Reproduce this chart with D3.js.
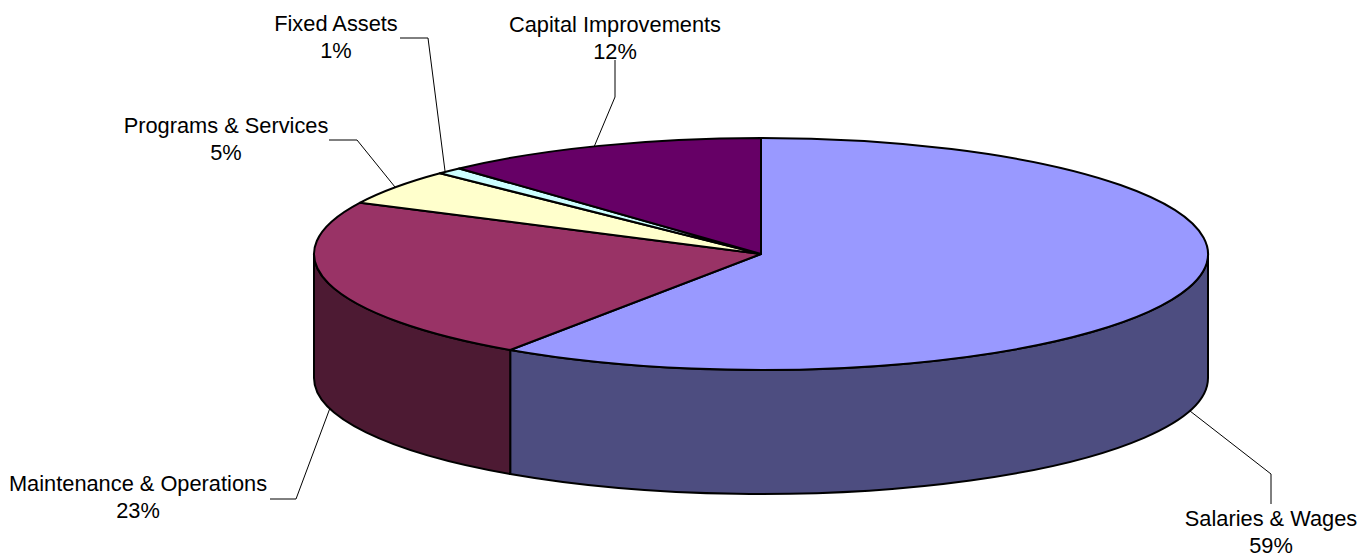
<!DOCTYPE html>
<html><head><meta charset="utf-8">
<script src="https://cdn.jsdelivr.net/npm/d3@7"></script>
<style>html,body{margin:0;background:#fff}svg{display:block}text{font-family:"Liberation Sans",Arial,sans-serif;font-size:21.8px;fill:#000}</style>
</head><body><svg id="c" width="1370" height="557"></svg>
<script>
const categories = ["Salaries & Wages","Maintenance & Operations","Programs & Services","Fixed Assets","Capital Improvements"];
const values = [59.48,22.82,4.95,0.95,11.8];
const labels = ["59%","23%","5%","1%","12%"];
const topColors = ["#9999ff","#993366","#ffffcc","#ccffff","#660066"];
const sideColors = ["#4d4d80","#4d1a33","#808066","#668080","#330033"];
const labelPos = [[1271,526],[138,491],[226,133],[336,31],[615,32]];
const leaders = [[[1190,411],[1271,474],[1271,504]],[[330,408],[296,499],[270,499]],[[395,187],[357,140],[329,140]],[[445,171],[428,38],[400,38]],[[594,147],[615,97],[615,60]]];

const svg = d3.select("#c");
const cx=761, cy=254, rx=447, ry=116, depth=124;
const ang = d3.pie().sort(null).value(d=>d)(values);
const px = d3.scaleLinear().domain([-1,1]).range([cx-rx,cx+rx]);
const py = d3.scaleLinear().domain([-1,1]).range([cy-ry,cy+ry]);
const pt = (a,dz=0)=>[px(Math.sin(a)),py(-Math.cos(a))+dz];
const ell = `A${rx} ${ry} 0`;

function sidePath(a0,a1){
  const p0=pt(a0),p1=pt(a1),q0=pt(a0,depth),q1=pt(a1,depth);
  return `M${p0}${ell} 0 1 ${p1}L${q1}${ell} 0 0 ${q0}Z`;
}
ang.forEach((d,i)=>{
  const a0=Math.max(d.startAngle,Math.PI/2), a1=Math.min(d.endAngle,Math.PI*1.5);
  if(a1>a0) svg.append("path").attr("d",sidePath(a0,a1)).attr("fill",sideColors[i]).attr("stroke","#000").attr("stroke-width",2).attr("stroke-linejoin","round");
});
ang.forEach((d,i)=>{
  const p0=pt(d.startAngle),p1=pt(d.endAngle);
  const large=(d.endAngle-d.startAngle)>Math.PI?1:0;
  svg.append("path").attr("d",`M${cx},${cy}L${p0}${ell} ${large} 1 ${p1}Z`).attr("fill",topColors[i]).attr("stroke","#000").attr("stroke-width",2).attr("stroke-linejoin","round");
});
const line=d3.line();
leaders.forEach(l=>svg.append("path").attr("d",line(l)).attr("fill","none").attr("stroke","#000").attr("stroke-width",1));
categories.forEach((c,i)=>{
  svg.append("text").attr("text-anchor","middle").attr("x",labelPos[i][0]).attr("y",labelPos[i][1]).text(c);
  svg.append("text").attr("text-anchor","middle").attr("x",labelPos[i][0]).attr("y",labelPos[i][1]+27).text(labels[i]);
});
</script></body></html>
